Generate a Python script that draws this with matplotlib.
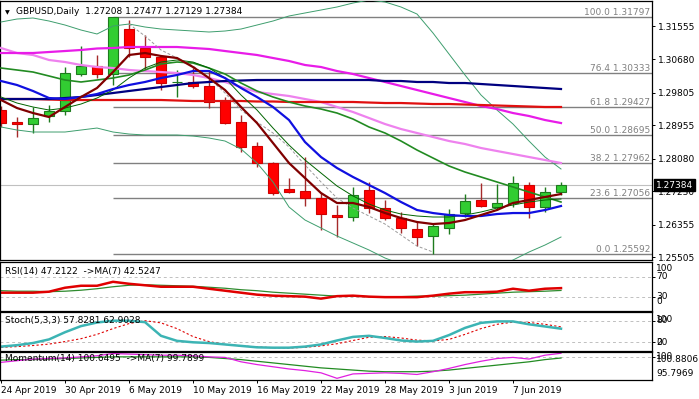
import matplotlib
matplotlib.use("Agg")
import matplotlib.pyplot as plt
import numpy as np

plt.rcParams['font.family'] = ['DejaVu Sans']
FS = 6.5

# ---------------- data ----------------
date_labels = ['24 Apr 2019', '30 Apr 2019', '6 May 2019', '10 May 2019', '16 May 2019',
               '22 May 2019', '28 May 2019', '3 Jun 2019', '7 Jun 2019']
date_pos = [0, 4, 8, 12, 16, 20, 24, 28, 32]

opens = [1.29355, 1.29050, 1.28988, 1.29198, 1.29329, 1.30298, 1.30507, 1.30298, 1.31476, 1.30979,
         1.30744, 1.30080, 1.30089, 1.29984, 1.29591, 1.29041, 1.28412, 1.27967, 1.27286, 1.27234,
         1.27050, 1.26605, 1.26553, 1.27260, 1.26788, 1.26527, 1.26239, 1.26055, 1.26265, 1.26657,
         1.26998, 1.26815, 1.26920, 1.27391, 1.26815, 1.27208]
highs = [1.29460, 1.29172, 1.29434, 1.29486, 1.30481, 1.31031, 1.30796, 1.31797, 1.31712, 1.31319,
         1.30770, 1.30403, 1.30455, 1.30403, 1.29696, 1.29224, 1.28517, 1.28000, 1.27574, 1.28124,
         1.27181, 1.26867, 1.27339, 1.27470, 1.26998, 1.26684, 1.26422, 1.26369, 1.26762, 1.27155,
         1.27443, 1.27417, 1.27627, 1.27470, 1.27339, 1.27477]
lows = [1.28910, 1.28648, 1.28753, 1.29041, 1.29224, 1.30246, 1.30193, 1.30010, 1.30744, 1.30403,
        1.29879, 1.29696, 1.29931, 1.29408, 1.28988, 1.28255, 1.27863, 1.27129, 1.27181, 1.26841,
        1.26212, 1.26029, 1.26448, 1.26657, 1.26474, 1.26134, 1.25793, 1.25592, 1.26108, 1.26553,
        1.26815, 1.26736, 1.26815, 1.26527, 1.26684, 1.27129]
closes = [1.29014, 1.29000, 1.29145, 1.29329, 1.30324, 1.30507, 1.30298, 1.31780, 1.30979, 1.30744,
          1.30062, 1.30100, 1.29984, 1.29565, 1.29014, 1.28386, 1.27967, 1.27181, 1.27207, 1.27050,
          1.26631, 1.26553, 1.27129, 1.26788, 1.26527, 1.26265, 1.26029, 1.26317, 1.26631, 1.26972,
          1.26841, 1.26920, 1.27443, 1.26815, 1.27207, 1.27384]

ma_fast = [1.29617, 1.29407, 1.29276, 1.29172, 1.29434, 1.29696, 1.29931, 1.30350, 1.30796, 1.30848,
           1.30770, 1.30717, 1.30481, 1.30193, 1.29879, 1.29434, 1.29014, 1.28491, 1.27967, 1.27574,
           1.27181, 1.26920, 1.26920, 1.26815, 1.26657, 1.26527, 1.26422, 1.26369, 1.26396, 1.26474,
           1.26605, 1.26736, 1.26920, 1.26998, 1.27077, 1.27155]
ma_blue = [1.30115, 1.30010, 1.29853, 1.29669, 1.29643, 1.29696, 1.29774, 1.29905, 1.30010, 1.30089,
           1.30193, 1.30272, 1.30376, 1.30376, 1.30193, 1.29931, 1.29696, 1.29434, 1.29093, 1.28517,
           1.28124, 1.27836, 1.27601, 1.27391, 1.27181, 1.26946, 1.26736, 1.26657, 1.26605, 1.26579,
           1.26579, 1.26631, 1.26657, 1.26657, 1.26736, 1.26841]
ma_navy = [1.29643, 1.29643, 1.29643, 1.29643, 1.29669, 1.29696, 1.29748, 1.29800, 1.29853, 1.29905,
           1.29957, 1.30010, 1.30062, 1.30089, 1.30115, 1.30128, 1.30141, 1.30141, 1.30141, 1.30141,
           1.30141, 1.30141, 1.30141, 1.30141, 1.30115, 1.30115, 1.30089, 1.30089, 1.30062, 1.30062,
           1.30036, 1.30010, 1.29984, 1.29957, 1.29931, 1.29905]
ma_red = [1.29643, 1.29643, 1.29643, 1.29630, 1.29617, 1.29617, 1.29617, 1.29617, 1.29617, 1.29617,
          1.29617, 1.29604, 1.29591, 1.29591, 1.29591, 1.29591, 1.29578, 1.29578, 1.29565, 1.29565,
          1.29565, 1.29565, 1.29565, 1.29551, 1.29538, 1.29538, 1.29525, 1.29512, 1.29512, 1.29499,
          1.29486, 1.29473, 1.29460, 1.29447, 1.29434, 1.29434]
ma_magenta = [1.30848, 1.30848, 1.30848, 1.30874, 1.30900, 1.30927, 1.30966, 1.30979, 1.31005, 1.31005,
              1.31005, 1.31005, 1.30979, 1.30953, 1.30900, 1.30848, 1.30796, 1.30717, 1.30639, 1.30534,
              1.30481, 1.30376, 1.30298, 1.30193, 1.30089, 1.29984, 1.29879, 1.29774, 1.29669, 1.29565,
              1.29460, 1.29381, 1.29276, 1.29198, 1.29093, 1.29014]
ma_plum = [1.30979, 1.30848, 1.30796, 1.30665, 1.30612, 1.30534, 1.30481, 1.30455, 1.30403, 1.30376,
           1.30350, 1.30324, 1.30272, 1.30193, 1.30089, 1.29957, 1.29827, 1.29774, 1.29722, 1.29643,
           1.29565, 1.29434, 1.29303, 1.29146, 1.28988, 1.28857, 1.28753, 1.28648, 1.28543, 1.28465,
           1.28360, 1.28281, 1.28203, 1.28124, 1.28046, 1.27967]
ma_green = [1.30455, 1.30403, 1.30350, 1.30246, 1.30141, 1.30089, 1.30141, 1.30193, 1.30272, 1.30403,
            1.30560, 1.30612, 1.30586, 1.30455, 1.30298, 1.30062, 1.29853, 1.29696, 1.29565, 1.29460,
            1.29381, 1.29276, 1.29119, 1.28910, 1.28753, 1.28543, 1.28307, 1.28098, 1.27889, 1.27731,
            1.27601, 1.27470, 1.27339, 1.27207, 1.27077, 1.26946]
ma_thin = [1.29696, 1.29538, 1.29434, 1.29355, 1.29407, 1.29512, 1.29669, 1.29879, 1.30193, 1.30455,
           1.30612, 1.30665, 1.30612, 1.30455, 1.30193, 1.29748, 1.29355, 1.28883, 1.28438, 1.28046,
           1.27705, 1.27365, 1.27103, 1.26894, 1.26736, 1.26631, 1.26579, 1.26553, 1.26553, 1.26605,
           1.26684, 1.26788, 1.26867, 1.26946, 1.26998, 1.27024]
dash_start = 8
ma_dash = [1.31607, 1.31293, 1.30927, 1.30717, 1.30507, 1.30193, 1.29800, 1.29355, 1.29041, 1.28753,
           1.28386, 1.27915, 1.27470, 1.27050, 1.26788, 1.26579, 1.26369, 1.26081, 1.25793, 1.25636]
bb_upper = [1.31660, 1.31738, 1.31765, 1.31686, 1.31581, 1.31450, 1.31346, 1.31555, 1.31607, 1.31529,
            1.31476, 1.31450, 1.31424, 1.31398, 1.31424, 1.31476, 1.31581, 1.31686, 1.31817, 1.31896,
            1.31974, 1.32053, 1.32157, 1.32236, 1.32184, 1.32053, 1.31869, 1.31372, 1.30822, 1.30272,
            1.29748, 1.29355, 1.28988, 1.28543, 1.28124, 1.27810]
bb_lower = [1.28910, 1.28831, 1.28779, 1.28779, 1.28779, 1.28831, 1.28883, 1.28779, 1.28726, 1.28700,
            1.28700, 1.28700, 1.28674, 1.28622, 1.28543, 1.28334, 1.27967, 1.27470, 1.26815, 1.26474,
            1.26265, 1.26055, 1.25872, 1.25689, 1.25479, 1.25322, 1.25165, 1.25060, 1.25008, 1.25033,
            1.25086, 1.25217, 1.25427, 1.25636, 1.25819, 1.26029]

fib_pct = [100.0, 76.4, 61.8, 50.0, 38.2, 23.6, 0.0]
fib_val = [1.31797, 1.30333, 1.29427, 1.28695, 1.27962, 1.27056, 1.25592]
fib_start = 7
price_ticks = [1.31555, 1.30680, 1.29805, 1.28955, 1.28080, 1.27230, 1.26355, 1.25505]

rsi = [38, 38, 38, 40, 48, 52, 52, 60, 56, 53, 50, 50, 50, 46, 42, 38, 34, 32, 31, 30,
       26, 31, 32, 30, 29, 29, 29, 32, 36, 39, 39, 40, 46, 42, 46, 47.2122]
rsi_ma = [42, 41, 41, 40, 41, 43, 46, 50, 53, 54, 53, 52, 51, 49, 47, 44, 42, 39, 37, 35,
          33, 31, 31, 30, 30, 30, 31, 31, 32, 33, 35, 37, 39, 40, 41, 42.5247]
stoch_k = [8, 12, 18, 28, 48, 65, 75, 80, 80, 76, 38, 24, 20, 18, 14, 10, 6, 5, 5, 8,
           14, 25, 35, 38, 32, 25, 22, 24, 40, 60, 74, 78, 78, 70, 64, 57.8281]
stoch_d = [6, 8, 11, 15, 22, 30, 42, 58, 72, 80, 74, 58, 36, 22, 14, 10, 7, 5, 4, 6,
           10, 16, 25, 34, 36, 32, 26, 24, 28, 42, 58, 70, 76, 75, 70, 62.9028]
mom = [99.0, 99.3, 99.6, 99.7, 99.8, 100.0, 100.2, 100.6, 100.5, 100.4, 100.3, 100.3, 100.2, 100.0,
       99.9, 99.1, 98.6, 98.2, 97.8, 97.5, 97.1, 96.1, 96.9, 97.0, 97.1, 97.0, 96.8, 97.3, 97.9,
       98.6, 99.2, 99.7, 99.9, 99.6, 100.3, 100.6495]
mom_ma = [99.4, 99.5, 99.5, 99.6, 99.7, 99.8, 99.9, 100.0, 100.0, 100.0, 100.0, 100.0, 100.0, 99.9,
          99.7, 99.5, 99.2, 98.9, 98.6, 98.3, 98.0, 97.8, 97.6, 97.4, 97.3, 97.3, 97.3, 97.4, 97.6,
          97.9, 98.2, 98.5, 98.8, 99.1, 99.5, 99.7899]

# ---------------- layout ----------------
W, H = 699, 399
fig = plt.figure(figsize=(W / 100, H / 100), dpi=100)
fig.patch.set_facecolor('white')
RIGHT = 652


def add_ax(top, bottom):
    return fig.add_axes([0, 1 - bottom / H, RIGHT / W, (bottom - top) / H])


ax = add_ax(1, 260)
ax_rsi = add_ax(262, 311)
ax_sto = add_ax(312, 351)
ax_mom = add_ax(352, 380)
XL = (-1 / 16, 651 / 16)

for a in (ax, ax_rsi, ax_sto, ax_mom):
    a.set_xlim(*XL)
    a.set_facecolor('white')
    for s in a.spines.values():
        s.set_linewidth(0.9)
        s.set_color('black')
    a.tick_params(axis='x', bottom=False, labelbottom=False)
    a.yaxis.tick_right()
    a.tick_params(axis='y', direction='out', length=2.5, width=0.7, pad=1.5,
                  labelsize=FS, colors='black')

x = np.arange(len(closes))
o = np.array(opens); c = np.array(closes); h = np.array(highs); l = np.array(lows)

# ---------------- main chart ----------------
ax.set_ylim(1.25427, 1.32210)
ax.set_yticks(price_ticks)
ax.set_yticklabels([f"{v:.5f}" for v in price_ticks])

# fib levels
ax.hlines(fib_val, fib_start, XL[1], color='#808080', lw=1.0, zorder=1)
for p, v in zip(fib_pct, fib_val):
    ax.text(650 / 652, v, f"{p:.1f} {v:.5f}", transform=ax.get_yaxis_transform(),
            ha='right', va='bottom', fontsize=FS, color='#808080', zorder=1)
ax.axhline(closes[-1], color='#C0C0C0', lw=0.8, zorder=1)

# candles
up = c >= o
bull_edge, bull_fill = '#1E7B1E', '#32CD32'
bear_edge, bear_fill = '#D00000', '#FF0000'
ax.vlines(x[up], l[up], h[up], color=bull_edge, lw=1.0, zorder=2)
ax.vlines(x[~up], l[~up], h[~up], color='#A52A2A', lw=1.0, zorder=2)
bw = 0.64
ax.bar(x[up], np.maximum(c[up] - o[up], 0.00012), bottom=o[up], width=bw,
       color=bull_fill, edgecolor=bull_edge, lw=0.8, zorder=2)
ax.bar(x[~up], np.maximum(o[~up] - c[~up], 0.00012), bottom=c[~up], width=bw,
       color=bear_fill, edgecolor=bear_edge, lw=0.8, zorder=2)

# indicator lines
ax.plot(x, bb_upper, color='#3E9E6E', lw=0.7, zorder=3)
ax.plot(x, bb_lower, color='#3E9E6E', lw=0.7, zorder=3)
ax.plot(x, ma_plum, color='#EE82EE', lw=1.6, zorder=3)
ax.plot(x, ma_magenta, color='#E81CE8', lw=1.6, zorder=3)
ax.plot(x, ma_red, color='#E01010', lw=1.6, zorder=3)
ax.plot(x, ma_navy, color='#000080', lw=1.6, zorder=3)
ax.plot(x, ma_green, color='#228B22', lw=1.2, zorder=3)
ax.plot(x, ma_thin, color='#006400', lw=0.7, zorder=3)
ax.plot(x[dash_start:dash_start + len(ma_dash)], ma_dash, color='#9A9A9A', lw=0.7,
        dashes=(3, 2), zorder=3)
ax.plot(x, ma_blue, color='#1010E0', lw=1.6, zorder=3)
ax.plot(x, ma_fast, color='#800000', lw=1.6, zorder=3)

ax.text(656 / 652, closes[-1], f"{closes[-1]:.5f}", transform=ax.get_yaxis_transform(),
        ha='left', va='center', fontsize=FS, color='white', zorder=10, clip_on=False,
        bbox=dict(boxstyle='square,pad=0.18', fc='black', ec='black'))

fig.text(5 / W, 1 - 12.5 / H, '\u25BC', fontsize=4.5, ha='left', va='center', color='black')
fig.text(16 / W, 1 - 12 / H,
         f"GBPUSD,Daily  {opens[-1]:.5f} {highs[-1]:.5f} {lows[-1]:.5f} {closes[-1]:.5f}",
         fontsize=FS, ha='left', va='center', color='black')

# ---------------- RSI ----------------
ax_rsi.set_ylim(1, 100)
ax_rsi.set_yticks([70, 30])
ax_rsi.set_yticklabels([])
for lv in (70, 30):
    ax_rsi.axhline(lv, color='#C0C0C0', lw=0.7, dashes=(3, 3))
ax_rsi.plot(x, rsi_ma, color='#2E8B2E', lw=0.9)
ax_rsi.plot(x, rsi, color='#E00000', lw=1.8)
tr = ax_rsi.get_yaxis_transform()
ax_rsi.text(656 / 652, 0.86, '100', transform=ax_rsi.transAxes, fontsize=FS, va='center')
ax_rsi.text(656 / 652, 70, '70', transform=tr, fontsize=FS, va='center')
ax_rsi.text(656 / 652, 30, '30', transform=tr, fontsize=FS, va='center')
ax_rsi.text(656 / 652, 0.19, '0', transform=ax_rsi.transAxes, fontsize=FS, va='center')
ax_rsi.text(5 / 652, 0.80, f"RSI(14) {rsi[-1]:.4f}  ->MA(7) {rsi_ma[-1]:.4f}",
            transform=ax_rsi.transAxes, fontsize=FS, va='center')

# ---------------- Stochastic ----------------
ax_sto.set_ylim(-4.2, 104.2)
ax_sto.set_yticks([80, 20])
ax_sto.set_yticklabels([])
for lv in (80, 20):
    ax_sto.axhline(lv, color='#C0C0C0', lw=0.7, dashes=(3, 3))
ax_sto.text(5 / 652, 0.77, f"Stoch(5,3,3) {stoch_k[-1]:.4f} {stoch_d[-1]:.4f}",
            transform=ax_sto.transAxes, fontsize=FS, va='center')
ax_sto.plot(x, stoch_d, color='#E00000', lw=0.8, dashes=(2, 2))
ax_sto.plot(x, stoch_k, color='#3CB4B4', lw=1.8)
tr = ax_sto.get_yaxis_transform()
ax_sto.text(656 / 652, 84, '100', transform=tr, fontsize=FS, va='center')
ax_sto.text(656 / 652, 80, '80', transform=tr, fontsize=FS, va='center')
ax_sto.text(656 / 652, 20, '20', transform=tr, fontsize=FS, va='center')
ax_sto.text(656 / 652, 19, '0', transform=tr, fontsize=FS, va='center')

# ---------------- Momentum ----------------
ax_mom.set_ylim(95.7969, 100.8806)
ax_mom.set_yticks([100])
ax_mom.set_yticklabels([])
ax_mom.axhline(100, color='#C0C0C0', lw=0.7, dashes=(3, 3))
ax_mom.text(5 / 652, 0.75, f"Momentum(14) {mom[-1]:.4f}  ->MA(7) {mom_ma[-1]:.4f}",
            transform=ax_mom.transAxes, fontsize=FS, va='center')
ax_mom.plot(x, mom_ma, color='#228B22', lw=0.9)
ax_mom.plot(x, mom, color='#E020E0', lw=0.9)
ax_mom.text(656 / 652, 0.75, '100.8806', transform=ax_mom.transAxes, fontsize=FS, va='center')
ax_mom.text(656 / 652, 100, '100', transform=ax_mom.get_yaxis_transform(), fontsize=FS, va='center')
ax_mom.text(656 / 652, 0.22, '95.7969', transform=ax_mom.transAxes, fontsize=FS, va='center')

ax_mom.set_xticks(date_pos)
ax_mom.set_xticklabels(date_labels, ha='left')
ax_mom.tick_params(axis='x', bottom=True, labelbottom=True, direction='out', length=2.5,
                   width=0.7, pad=2, labelsize=FS)

fig.savefig('out.png', dpi=100, facecolor='white')
